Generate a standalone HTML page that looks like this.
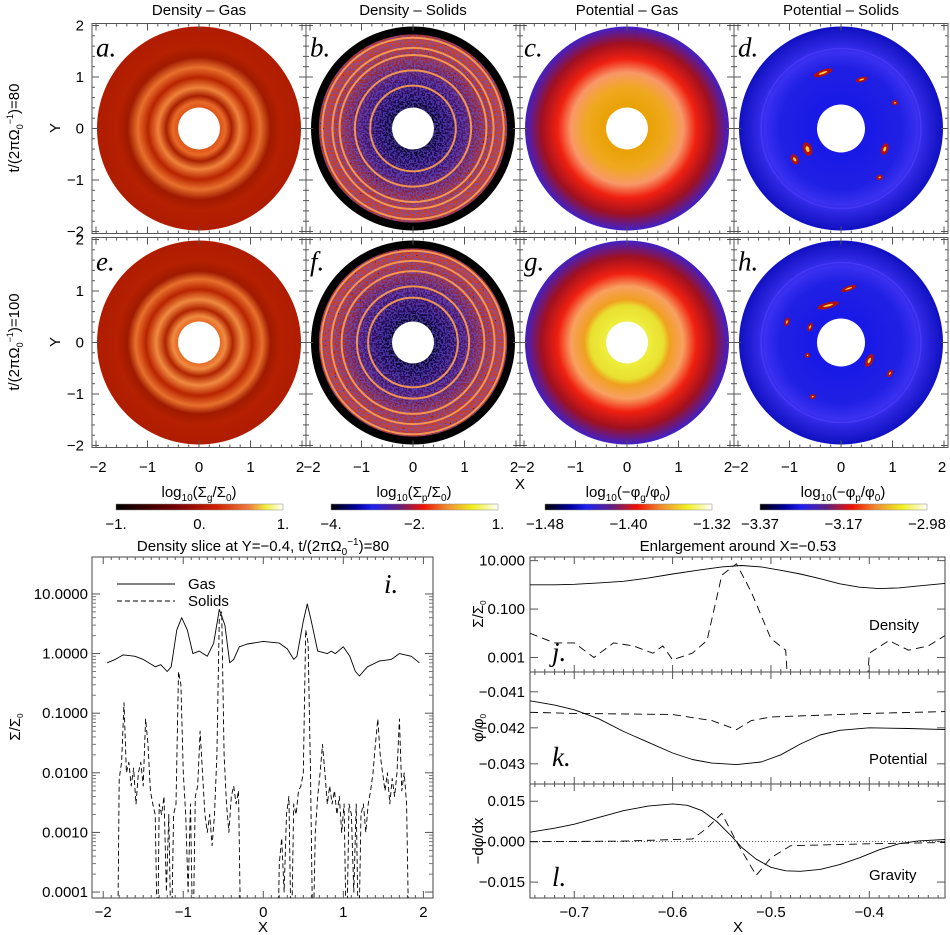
<!DOCTYPE html>
<html><head><meta charset="utf-8"><style>
html,body{margin:0;padding:0;background:#fff;}
svg{display:block;font-family:"Liberation Sans",sans-serif;}
.t{font-size:15px;fill:#000;}
.lab{font-family:"Liberation Serif",serif;font-style:italic;font-size:27px;fill:#000;}
</style></head><body>
<svg id="fig" width="950" height="935" viewBox="0 0 950 935" xmlns="http://www.w3.org/2000/svg">
<defs>
<radialGradient id="gA" cx="0.5" cy="0.5" r="0.5">
<stop offset="0.18" stop-color="#d84a10"/><stop offset="0.26" stop-color="#e86a28"/><stop offset="0.32" stop-color="#a82000"/>
<stop offset="0.4" stop-color="#f0823a"/><stop offset="0.5" stop-color="#b82400"/><stop offset="0.6" stop-color="#e8702c"/>
<stop offset="0.7" stop-color="#a01a00"/><stop offset="0.8" stop-color="#b42000"/><stop offset="1" stop-color="#b01c00"/></radialGradient>
<radialGradient id="gE" cx="0.5" cy="0.5" r="0.5">
<stop offset="0.18" stop-color="#e05a18"/><stop offset="0.26" stop-color="#f08a40"/><stop offset="0.33" stop-color="#b02400"/>
<stop offset="0.42" stop-color="#f08a40"/><stop offset="0.52" stop-color="#b82400"/><stop offset="0.62" stop-color="#e8702c"/>
<stop offset="0.7" stop-color="#a01a00"/><stop offset="0.8" stop-color="#b42000"/><stop offset="1" stop-color="#b01c00"/></radialGradient>
<radialGradient id="gB" cx="0.5" cy="0.5" r="0.5">
<stop offset="0.18" stop-color="#080418"/><stop offset="0.3" stop-color="#200850"/><stop offset="0.5" stop-color="#501868"/>
<stop offset="0.7" stop-color="#a83030"/><stop offset="0.86" stop-color="#d04020"/><stop offset="0.92" stop-color="#b03020"/>
<stop offset="0.925" stop-color="#000"/><stop offset="1" stop-color="#000"/></radialGradient>
<radialGradient id="gC" cx="0.5" cy="0.5" r="0.5">
<stop offset="0.18" stop-color="#e8a000"/><stop offset="0.4" stop-color="#f0a820"/><stop offset="0.55" stop-color="#f89868"/>
<stop offset="0.68" stop-color="#f02010"/><stop offset="0.84" stop-color="#a01020"/><stop offset="1" stop-color="#4020c8"/></radialGradient>
<radialGradient id="gG" cx="0.5" cy="0.5" r="0.5">
<stop offset="0.18" stop-color="#f0f040"/><stop offset="0.36" stop-color="#e8e030"/><stop offset="0.42" stop-color="#f0a020"/><stop offset="0.55" stop-color="#f8a060"/>
<stop offset="0.68" stop-color="#f02010"/><stop offset="0.84" stop-color="#a01020"/><stop offset="1" stop-color="#4020c8"/></radialGradient>
<radialGradient id="gD" cx="0.5" cy="0.5" r="0.5">
<stop offset="0.2" stop-color="#1818e8"/><stop offset="0.6" stop-color="#2020e4"/><stop offset="0.75" stop-color="#3a30f0"/><stop offset="1" stop-color="#1010c0"/></radialGradient>
<linearGradient id="cb1"><stop offset="0" stop-color="#000"/><stop offset="0.35" stop-color="#700000"/><stop offset="0.6" stop-color="#d02000"/><stop offset="0.8" stop-color="#f08040"/><stop offset="0.9" stop-color="#f0f040"/><stop offset="1" stop-color="#fff"/></linearGradient>
<linearGradient id="cb2"><stop offset="0" stop-color="#000"/><stop offset="0.15" stop-color="#0000a0"/><stop offset="0.25" stop-color="#2020f0"/><stop offset="0.4" stop-color="#602080"/><stop offset="0.55" stop-color="#f01000"/><stop offset="0.7" stop-color="#f09030"/><stop offset="0.85" stop-color="#f0f020"/><stop offset="1" stop-color="#fff"/></linearGradient>
<filter id="noise" x="0" y="0" width="100%" height="100%">
<feTurbulence type="fractalNoise" baseFrequency="0.55" numOctaves="1" seed="3"/>
<feComponentTransfer><feFuncA type="discrete" tableValues="0 0 1 1"/></feComponentTransfer>
<feColorMatrix type="matrix" values="0 0 0 0 0.12  0 0 0 0 0.1  0 0 0 0 0.8  0 0 0 0.55 0"/>
</filter>
<filter id="noise2" x="0" y="0" width="100%" height="100%">
<feTurbulence type="fractalNoise" baseFrequency="0.6" numOctaves="1" seed="9"/>
<feComponentTransfer><feFuncA type="discrete" tableValues="0 0 0 1"/></feComponentTransfer>
<feColorMatrix type="matrix" values="0 0 0 0 0  0 0 0 0 0  0 0 0 0 0.05  0 0 0 0.8 0"/>
</filter>
<clipPath id="clipI"><rect x="92" y="557" width="341" height="341"/></clipPath>
<clipPath id="clipJ"><rect x="530" y="557" width="415" height="115"/></clipPath>
<clipPath id="clipK"><rect x="530" y="672" width="415" height="112"/></clipPath>
<clipPath id="clipL"><rect x="530" y="784" width="415" height="114"/></clipPath>
</defs>
<g id="maps"></g>
<g id="lines"></g>
</svg>
<script>
// ---------- data ----------
const colTitles = ["Density – Gas","Density – Solids","Potential – Gas","Potential – Solids"];
const panelLetters = ["a.","b.","c.","d.","e.","f.","g.","h."];
const cbTickLabels = [["-1.","0.","1."],["-4.","-2.","1."],["-1.48","-1.40","-1.32"],["-3.37","-3.17","-2.98"]];
const mapTicks = [-2,-1,0,1,2];
// panel i
const iGasX = [-1.95,-1.85,-1.75,-1.6,-1.5,-1.35,-1.28,-1.2,-1.15,-1.08,-1.02,-0.95,-0.88,-0.8,-0.7,-0.62,-0.55,-0.48,-0.42,-0.37,-0.3,-0.2,0,0.2,0.3,0.38,0.42,0.5,0.55,0.6,0.68,0.8,0.85,0.9,1.0,1.08,1.15,1.2,1.3,1.45,1.6,1.7,1.85,1.95];
const iGasY = [0.7,0.8,0.95,0.9,0.8,0.6,0.65,0.5,0.6,2.5,4.0,2.5,1.0,1.1,0.9,1.5,5.5,3.0,0.7,0.8,1.3,1.45,1.6,1.5,1.2,0.8,0.9,3.5,6.8,3.5,1.1,1.0,1.1,1.0,1.3,0.9,0.5,0.42,0.6,0.75,0.8,1.0,0.9,0.7];
const iSolX = [-1.82,-1.8,-1.77,-1.74,-1.71,-1.68,-1.65,-1.62,-1.59,-1.56,-1.53,-1.5,-1.47,-1.44,-1.41,-1.38,-1.35,-1.32,-1.3,-1.27,-1.24,-1.21,-1.18,-1.15,-1.12,-1.09,-1.06,-1.03,-1.0,-0.97,-0.94,-0.91,-0.88,-0.85,-0.82,-0.79,-0.76,-0.73,-0.7,-0.67,-0.64,-0.61,-0.58,-0.55,-0.52,-0.49,-0.46,-0.43,-0.4,-0.37,-0.34,-0.31,-0.28,
 0.18,0.2,0.23,0.26,0.29,0.32,0.35,0.38,0.41,0.44,0.47,0.5,0.53,0.56,0.59,0.62,0.65,0.68,0.71,0.74,0.77,0.8,0.83,0.86,0.89,0.92,0.95,0.98,1.01,1.04,1.07,1.1,1.13,1.16,1.19,1.22,1.25,1.28,1.31,1.34,1.37,1.4,1.43,1.46,1.49,1.52,1.55,1.58,1.61,1.64,1.67,1.7,1.73,1.76,1.79,1.82];
const iSolY = [1e-5,0.008,0.015,0.15,0.01,0.015,0.006,0.012,0.003,0.01,0.015,0.006,0.08,0.03,0.005,0.003,0.002,1e-5,0.003,0.002,0.004,1e-4,0.002,1e-5,0.002,0.003,0.5,0.3,0.01,0.002,1e-4,0.003,1e-5,0.004,0.006,0.05,0.01,0.002,0.001,0.002,0.0006,0.002,0.02,4.0,5.0,0.02,0.003,0.001,0.004,0.006,0.003,0.005,1e-5,
 1e-5,3e-4,8e-4,1e-4,0.002,0.004,1e-5,0.003,0.002,0.005,0.006,0.01,2.5,1.5,0.01,1e-5,0.001,0.004,0.01,0.03,0.01,0.003,0.006,0.003,0.005,0.002,0.004,0.001,0.003,1e-5,0.003,0.002,1e-4,0.003,1e-5,0.002,0.003,0.001,0.003,0.005,0.01,0.03,0.08,0.02,0.01,0.005,0.01,0.003,0.008,0.004,0.01,0.08,0.005,0.01,0.003,1e-5];
const iXTicks = [-2,-1,0,1,2];
const iYTicks = [10,1,0.1,0.01,0.001,0.0001];
const iYTickLabels = ["10.0000","1.0000","0.1000","0.0100","0.0010","0.0001"];
// panel j
const jGasX = [-0.745,-0.72,-0.7,-0.675,-0.65,-0.625,-0.6,-0.575,-0.55,-0.53,-0.51,-0.49,-0.47,-0.45,-0.43,-0.41,-0.39,-0.37,-0.35,-0.323];
const jGasY = [1.0,1.0,1.05,1.2,1.4,1.9,2.8,4.0,5.5,6.3,5.5,4.0,2.8,1.8,1.1,0.8,0.7,0.75,0.9,1.15];
const jSolX = [-0.745,-0.72,-0.7,-0.68,-0.66,-0.64,-0.62,-0.61,-0.6,-0.58,-0.565,-0.55,-0.535,-0.52,-0.5,-0.485,-0.48,-0.405,-0.4,-0.38,-0.36,-0.34,-0.323];
const jSolY = [0.01,0.004,0.004,0.001,0.004,0.003,0.0015,0.003,0.0008,0.0015,0.005,2.5,7.5,0.5,0.006,0.002,1e-6,1e-6,0.0015,0.005,0.002,0.003,0.008];
const jYTicks = [10,0.1,0.001];
const jYTickLabels = ["10.000","0.100","0.001"];
// panel k
const kGasX = [-0.745,-0.72,-0.7,-0.675,-0.65,-0.625,-0.6,-0.58,-0.56,-0.535,-0.51,-0.49,-0.47,-0.45,-0.43,-0.4,-0.36,-0.323];
const kGasY = [-0.04125,-0.04137,-0.0415,-0.04175,-0.0421,-0.0424,-0.0427,-0.04288,-0.04298,-0.04302,-0.04295,-0.04275,-0.04245,-0.0422,-0.04207,-0.042,-0.04202,-0.04205];
const kSolX = [-0.745,-0.7,-0.6,-0.56,-0.535,-0.52,-0.5,-0.45,-0.4,-0.323];
const kSolY = [-0.04157,-0.0416,-0.04163,-0.0418,-0.04205,-0.0418,-0.0417,-0.04165,-0.0416,-0.04155];
const kYTicks = [-0.041,-0.042,-0.043];
const kYTickLabels = ["-0.041","-0.042","-0.043"];
// panel l
const lGasX = [-0.745,-0.72,-0.7,-0.675,-0.65,-0.625,-0.6,-0.585,-0.57,-0.555,-0.54,-0.53,-0.515,-0.5,-0.485,-0.47,-0.45,-0.43,-0.41,-0.39,-0.37,-0.35,-0.323];
const lGasY = [0.0035,0.005,0.0065,0.009,0.0115,0.0132,0.014,0.0135,0.0115,0.0075,0.002,-0.002,-0.0065,-0.0095,-0.0108,-0.011,-0.0103,-0.0085,-0.006,-0.003,-0.0008,0.0003,0.0008];
const lSolX = [-0.745,-0.65,-0.58,-0.565,-0.55,-0.535,-0.515,-0.5,-0.48,-0.4,-0.323];
const lSolY = [0,0.0002,0.001,0.005,0.0105,0,-0.0125,-0.006,-0.0015,-0.0008,-0.0003];
const lYTicks = [0.015,0,-0.015];
const lYTickLabels = ["0.015","0.000","-0.015"];
const rXTicks = [-0.7,-0.6,-0.5,-0.4];
const rXTickLabels = ["-0.7","-0.6","-0.5","-0.4"];

const NS="http://www.w3.org/2000/svg";
function mk(parent,tag,attrs,txt){const e=document.createElementNS(NS,tag);for(const k in attrs)e.setAttribute(k,attrs[k]);if(txt!==undefined)e.textContent=txt;parent.appendChild(e);return e;}
const maps=document.getElementById('maps'), lines=document.getElementById('lines');
const mm = s=>s.replace(/-/g,'\u2212');

// ---------- maps ----------
const colCx=[199,413,627,841], rowCy=[128.5,342.5], half=107, halfY=105, ppu=51.5;
const fills=[["gA","gB","gC","gD"],["gE","gB","gG","gD"]];
const blobs=[[[-0.35,1.08,18,4,-20],[0.4,0.95,10,3,-15],[1.05,0.5,4,3,0],[-0.9,-0.6,5,9,-30],[-0.65,-0.4,7,12,-20],[0.85,-0.4,5,10,20],[0.75,-0.95,5,3,-20]],
            [[-0.25,0.72,20,4,-15],[0.15,1.05,14,3,-20],[-1.05,0.4,3,7,15],[-0.6,0.3,3,7,20],[-0.65,-0.25,3,3,0],[0.55,-0.35,5,12,25],[0.95,-0.6,3,6,30],[-0.55,-1.05,4,3,0]]];
for(let r=0;r<2;r++){
 for(let c=0;c<4;c++){
  const cx=colCx[c], cy=rowCy[r];
  const g=mk(maps,'g',{});
  
  
  mk(g,'circle',{cx:cx,cy:cy,r:102,fill:'url(#'+fills[r][c]+')'});
  if(c===1){
    const cid='bclip'+r;
    const cp=mk(g,'clipPath',{id:cid});mk(cp,'circle',{cx:cx,cy:cy,r:94});
    mk(g,'rect',{x:cx-94,y:cy-94,width:188,height:188,filter:'url(#noise)','clip-path':'url(#'+cid+')'});
    mk(g,'rect',{x:cx-94,y:cy-94,width:188,height:188,filter:'url(#noise2)','clip-path':'url(#'+cid+')'});
    const rings = r===0 ? [0.42,0.57,0.72,0.79,0.89] : [0.44,0.55,0.7,0.8,0.9];
    for(const rr of rings){mk(g,'circle',{cx:cx,cy:cy,r:rr*102,fill:'none',stroke:'#ffa050','stroke-width':2,'stroke-opacity':0.9});}
  }
  if(c===3){
    mk(g,'circle',{cx:cx,cy:cy,r:80,fill:'none',stroke:'#5040ff','stroke-width':1.5,'stroke-opacity':0.6});
    for(const b of blobs[r]){const bx=cx+b[0]*ppu, by=cy-b[1]*ppu;
      mk(g,'ellipse',{cx:bx,cy:by,rx:b[2]/2+1,ry:b[3]/2+1,fill:'#b01010',transform:'rotate('+b[4]+' '+bx+' '+by+')'});
      mk(g,'ellipse',{cx:bx,cy:by,rx:b[2]/4,ry:b[3]/4,fill:'#ffd040',transform:'rotate('+b[4]+' '+bx+' '+by+')'});}
  }
  mk(g,'circle',{cx:cx,cy:cy,r:(c===3?24:21),fill:'#fff'});
  mk(g,'rect',{x:cx-half,y:cy-halfY,width:2*half,height:2*halfY,fill:'none',stroke:'#555','stroke-width':1});
  for(let v=-2;v<=2.001;v+=0.2){
    const x=cx+v*ppu, y=cy-v*ppu, maj=Math.abs(v-Math.round(v))<0.01, L=maj?7:3;
    mk(g,'line',{x1:x,y1:cy-halfY,x2:x,y2:cy-halfY+L,stroke:'#555'});
    mk(g,'line',{x1:x,y1:cy+halfY,x2:x,y2:cy+halfY-L,stroke:'#555'});
    mk(g,'line',{x1:cx-half,y1:y,x2:cx-half+L,y2:y,stroke:'#555'});
    mk(g,'line',{x1:cx+half,y1:y,x2:cx+half-L,y2:y,stroke:'#555'});
  }
  const lt=mk(g,'text',{x:cx-103,y:cy-72,'class':'lab'},panelLetters[r*4+c]);
  
  if(c===0){for(const v of mapTicks){const t=mk(g,'text',{x:cx-half-8,y:cy-v*ppu+5,'class':'t','text-anchor':'end'},mm(String(v)));
    }}
  if(r===1){for(const v of mapTicks){const t=mk(g,'text',{x:cx+v*ppu+(v===2?-2:(v===-2?2:0)),y:472,'class':'t','text-anchor':'middle'},mm(String(v)));
    }}
 }
}
colTitles.forEach((t,i)=>{const e=mk(maps,'text',{x:colCx[i],y:15,'class':'t','text-anchor':'middle','font-size':'16'},t);
 });
[["80",128],["100",342]].forEach(([v,y])=>{
 const e=mk(maps,'text',{x:0,y:0,'class':'t','text-anchor':'middle',transform:'translate(19,'+y+') rotate(-90)'});
 
 e.innerHTML='t/(2πΩ<tspan font-size="9" dy="4">0</tspan><tspan font-size="9" dy="-10">−1</tspan><tspan dy="6">)='+v+'</tspan>';
 const yl=mk(maps,'text',{x:0,y:0,'class':'t','text-anchor':'middle',transform:'translate(60,'+y+') rotate(-90)','font-size':'12'},'Y');
 
});
const xt=mk(maps,'text',{x:520,y:489,'class':'t','text-anchor':'middle','font-size':'16'},'X');

// colorbars
const cbX=[116,331,545,760], cbSub=["g","p","g","p"];
for(let i=0;i<4;i++){
 const g=mk(maps,'g',{});
 mk(g,'rect',{x:cbX[i],y:504,width:167,height:6,fill:'url(#'+(i===0?'cb1':'cb2')+')',stroke:'#888','stroke-width':0.5});
 const t=mk(g,'text',{x:cbX[i]+83,y:497,'class':'t','text-anchor':'middle','font-size':'16'});
 t.innerHTML = i<2 ? 'log<tspan font-size="10" dy="4">10</tspan><tspan dy="-4">(Σ</tspan><tspan font-size="10" dy="4">'+cbSub[i]+'</tspan><tspan dy="-4">/Σ</tspan><tspan font-size="10" dy="4">0</tspan><tspan dy="-4">)</tspan>'
   : 'log<tspan font-size="10" dy="4">10</tspan><tspan dy="-4">(−φ</tspan><tspan font-size="10" dy="4">'+cbSub[i]+'</tspan><tspan dy="-4">/φ</tspan><tspan font-size="10" dy="4">0</tspan><tspan dy="-4">)</tspan>';
 [0,0.5,1].forEach((f,k)=>{const e=mk(g,'text',{x:cbX[i]+f*167,y:529,'class':'t','text-anchor':'middle','font-size':'14'},mm(cbTickLabels[i][k]));
  });
}

// ---------- line plots ----------
function axisFns(x0,x1,px0,px1,y0,y1,py0,py1,log){
 const sx=v=>px0+(v-x0)/(x1-x0)*(px1-px0);
 const sy=v=>{const t=log?Math.log10(Math.max(v,1e-9)):v;return py0+(t-y0)/(y1-y0)*(py1-py0);};
 return [sx,sy];
}
function path(g,xs,ys,sx,sy,dash,clip,name){
 let d='';xs.forEach((x,i)=>{d+=(i?'L':'M')+sx(x).toFixed(1)+','+sy(ys[i]).toFixed(1);});
 const p=mk(g,'path',{d:d,fill:'none',stroke:'#000','stroke-width':0.9,'stroke-linejoin':'round','clip-path':'url(#'+clip+')'});
 if(dash)p.setAttribute('stroke-dasharray',dash);
 
}
function frame(g,x,y,w,h){mk(g,'rect',{x:x,y:y,width:w,height:h,fill:'none',stroke:'#444','stroke-width':1});}
// panel i
{
 const g=mk(lines,'g',{});
 const [sx,sy]=axisFns(-2.14,2.12,92,433,1.62,-4.1,557,898,true);
 frame(g,92,557,341,341);
 for(let v=-2;v<=2.001;v+=0.1){const x=sx(v),maj=Math.abs(v-Math.round(v))<0.01,L=maj?7:3;
  mk(g,'line',{x1:x,y1:898,x2:x,y2:898-L,stroke:'#555'});mk(g,'line',{x1:x,y1:557,x2:x,y2:557+L,stroke:'#555'});}
 iXTicks.forEach(v=>{const e=mk(g,'text',{x:sx(v),y:917,'class':'t','text-anchor':'middle'},mm(String(v)));});
 iYTicks.forEach((v,k)=>{const y=sy(v);mk(g,'line',{x1:92,y1:y,x2:100,y2:y,stroke:'#555'});mk(g,'line',{x1:433,y1:y,x2:425,y2:y,stroke:'#555'});
  for(let m=2;m<10&&k>0;m++){const ym=sy(v*m);mk(g,'line',{x1:92,y1:ym,x2:96,y2:ym,stroke:'#777'});mk(g,'line',{x1:433,y1:ym,x2:429,y2:ym,stroke:'#777'});}
  const e=mk(g,'text',{x:88,y:y+5,'class':'t','text-anchor':'end'},iYTickLabels[k]);});
 path(g,iGasX,iGasY,sx,sy,null,'clipI','gas-line');
 path(g,iSolX,iSolY,sx,sy,'5 3','clipI','solids-line');
 mk(g,'line',{x1:117,y1:584,x2:175,y2:584,stroke:'#000'});mk(g,'line',{x1:117,y1:601,x2:175,y2:601,stroke:'#000','stroke-dasharray':'5 3'});
 mk(g,'text',{x:188,y:589,'class':'t'},'Gas');mk(g,'text',{x:188,y:606,'class':'t'},'Solids');
 mk(g,'text',{x:384,y:593,'class':'lab'},'i.');
 const tt=mk(g,'text',{x:263,y:551,'class':'t','text-anchor':'middle','font-size':'16'});
 tt.innerHTML='Density slice at Y=−0.4, t/(2πΩ<tspan font-size="10" dy="4">0</tspan><tspan font-size="10" dy="-10">−1</tspan><tspan dy="6">)=80</tspan>';
 const yt=mk(g,'text',{x:0,y:0,'class':'t','text-anchor':'middle','font-size':'12',transform:'translate(20,727) rotate(-90)'});yt.innerHTML='Σ/Σ<tspan font-size="8" dy="3">0</tspan>';
 mk(g,'text',{x:263,y:932,'class':'t','text-anchor':'middle','font-size':'16'},'X');
}
// right panels
{
 const g=mk(lines,'g',{});
 const X0=-0.745,X1=-0.323;
 const [sxj,syj]=axisFns(X0,X1,530,945,1.15,-3.6,557,672,true);
 const [,syk]=axisFns(X0,X1,530,945,-0.04045,-0.04356,672,784,false);
 const [,syl]=axisFns(X0,X1,530,945,0.0214,-0.0209,784,898,false);
 const boxes=[[557,672],[672,784],[784,898]];
 boxes.forEach(([a,b])=>{frame(g,530,a,415,b-a);
  for(let v=-0.74;v<=-0.32;v+=0.01){const x=sxj(v),maj=Math.abs(v*10-Math.round(v*10))<0.01,L=maj?7:3;
   mk(g,'line',{x1:x,y1:b,x2:x,y2:b-L,stroke:'#555'});mk(g,'line',{x1:x,y1:a,x2:x,y2:a+L,stroke:'#555'});}});
 const yset=[[jYTicks,jYTickLabels,syj],[kYTicks,kYTickLabels,syk],[lYTicks,lYTickLabels,syl]];
 yset.forEach(([tk,lb,sy])=>tk.forEach((v,k)=>{const y=sy(v);mk(g,'line',{x1:530,y1:y,x2:538,y2:y,stroke:'#555'});mk(g,'line',{x1:945,y1:y,x2:937,y2:y,stroke:'#555'});
  const e=mk(g,'text',{x:525,y:y+5,'class':'t','text-anchor':'end'},mm(lb[k]));}));
 rXTicks.forEach((v,k)=>{const e=mk(g,'text',{x:sxj(v),y:917,'class':'t','text-anchor':'middle'},mm(rXTickLabels[k]));});
 mk(g,'line',{x1:530,y1:syl(0),x2:945,y2:syl(0),stroke:'#000','stroke-width':0.7,'stroke-dasharray':'1 2'});
 path(g,jGasX,jGasY,sxj,syj,null,'clipJ','j-gas-line');
 path(g,jSolX,jSolY,sxj,syj,'8 5','clipJ','j-solids-line');
 path(g,kGasX,kGasY,sxj,syk,null,'clipK','k-gas-line');
 path(g,kSolX,kSolY,sxj,syk,'8 5','clipK','k-solids-line');
 path(g,lGasX,lGasY,sxj,syl,null,'clipL','l-gas-line');
 path(g,lSolX,lSolY,sxj,syl,'8 5','clipL','l-solids-line');
 mk(g,'text',{x:869,y:630,'class':'t'},'Density');mk(g,'text',{x:869,y:764,'class':'t'},'Potential');mk(g,'text',{x:869,y:880,'class':'t'},'Gravity');
 mk(g,'text',{x:552,y:661,'class':'lab'},'j.');mk(g,'text',{x:552,y:766,'class':'lab'},'k.');mk(g,'text',{x:552,y:886,'class':'lab'},'l.');
 const tt=mk(g,'text',{x:738,y:551,'class':'t','text-anchor':'middle','font-size':'16'},'Enlargement around X=−0.53');
 const y1=mk(g,'text',{x:0,y:0,'class':'t','text-anchor':'middle','font-size':'11',transform:'translate(483,614) rotate(-90)'});y1.innerHTML='Σ/Σ<tspan font-size="8" dy="3">0</tspan>';
 const y2=mk(g,'text',{x:0,y:0,'class':'t','text-anchor':'middle','font-size':'11',transform:'translate(483,728) rotate(-90)'});y2.innerHTML='φ/φ<tspan font-size="8" dy="3">0</tspan>';
 mk(g,'text',{x:0,y:0,'class':'t','text-anchor':'middle','font-size':'11',transform:'translate(483,841) rotate(-90)'},'−dφ/dx');
 mk(g,'text',{x:738,y:932,'class':'t','text-anchor':'middle','font-size':'16'},'X');
}
</script>
</body></html>
